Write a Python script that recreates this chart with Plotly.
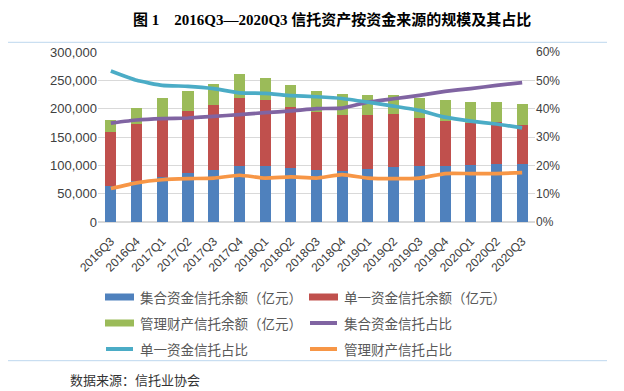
import plotly.graph_objects as go

quarters = ["2016Q3", "2016Q4", "2017Q1", "2017Q2", "2017Q3", "2017Q4", "2018Q1", "2018Q2",
            "2018Q3", "2018Q4", "2019Q1", "2019Q2", "2019Q3", "2019Q4", "2020Q1", "2020Q2", "2020Q3"]

# 余额（亿元）
jihe_amt = [62900, 72900, 80000, 85900, 91200, 98200, 98200, 94700, 92300, 90600, 94100,
            97600, 98200, 99400, 100000, 102900, 102900]
danyi_amt = [95900, 100600, 105500, 109400, 114700, 120000, 116500, 108200, 101800, 97600,
             95300, 92400, 85900, 78800, 75300, 73000, 69000]
guanli_amt = [21800, 28300, 32700, 35900, 37000, 43000, 40000, 38300, 36500, 38300, 34700,
              34100, 35300, 36500, 37000, 36400, 35700]

# 占比（%）
jihe_pct = [34.9, 36.0, 36.5, 36.7, 37.3, 37.9, 38.6, 39.2, 40.0, 40.2, 42.3, 43.5, 44.7,
            46.1, 47.1, 48.2, 49.2]
danyi_pct = [53.3, 50.0, 48.2, 47.9, 47.1, 45.6, 45.4, 44.6, 44.2, 43.6, 42.3, 40.9, 39.4,
             37.0, 35.6, 34.6, 33.2]
guanli_pct = [11.8, 13.8, 14.9, 15.3, 15.5, 16.5, 15.5, 15.9, 15.5, 16.7, 15.5, 15.3, 15.5,
              17.1, 17.1, 17.1, 17.4]

bar_names = ["集合资金信托余额（亿元）", "单一资金信托余额（亿元）", "管理财产信托余额（亿元）"]
line_names = ["集合资金信托占比", "单一资金信托占比", "管理财产信托占比"]
bar_colors = ["#4F81BD", "#C0504D", "#9BBB59"]
line_colors = ["#8064A2", "#4BACC6", "#F79646"]

# page body has an 8px default margin; figure is sized to fit the window exactly
OFF = 8
W, H = 624 - OFF, 391 - OFF
ML, MR, MT, MB = 90, 89, 44, 169
PW, PH = W - ML - MR, H - MT - MB


def px(x):  # page pixel -> paper x
    return (x - OFF - ML) / PW


def py(y):  # page pixel -> paper y
    return (H - MB - (y - OFF)) / PH


fig = go.Figure()
for name, vals, col in zip(bar_names, [jihe_amt, danyi_amt, guanli_amt], bar_colors):
    fig.add_trace(go.Bar(x=quarters, y=vals, name=name, marker=dict(color=col, line=dict(width=0)),
                         showlegend=False))
for name, vals, col in zip(line_names, [jihe_pct, danyi_pct, guanli_pct], line_colors):
    fig.add_trace(go.Scatter(x=quarters, y=vals, name=name, yaxis="y2", mode="lines",
                             line=dict(color=col, width=3.7, shape="spline", smoothing=0.4),
                             showlegend=False))

axis_font = dict(family="Liberation Sans, Arial, sans-serif", color="#404040")
fig.update_layout(
    width=W, height=H,
    margin=dict(l=ML, r=MR, t=MT, b=MB),
    paper_bgcolor="white", plot_bgcolor="white",
    barmode="stack", bargap=0.57,
    xaxis=dict(type="category", tickangle=-45, tickfont=dict(size=12, **axis_font),
               showgrid=False, ticks="", showline=False, range=[-0.5, 16.5],
               ticklabelstandoff=9),
    yaxis=dict(range=[0, 300000], dtick=50000, tickformat=",", showgrid=True,
               gridcolor="#D9D9D9", gridwidth=1, zeroline=True, zerolinecolor="#D9D9D9",
               tickfont=dict(size=13, **axis_font), ticks="", showline=False),
    yaxis2=dict(range=[0, 60], dtick=10, ticksuffix="%", overlaying="y", side="right",
                showgrid=False, zeroline=False, tickfont=dict(size=12, **axis_font),
                ticks="", showline=False),
    showlegend=False,
)

shapes = []
annotations = []
# border lines
for yy in (42.3, 360.7):
    shapes.append(dict(type="line", xref="paper", yref="paper", x0=px(6), x1=px(607),
                       y0=py(yy), y1=py(yy), line=dict(color="#BDD7EE", width=1)))

# legend (manual)
legend_items = [
    (bar_names[0], bar_colors[0], "bar", 105, 297),
    (bar_names[1], bar_colors[1], "bar", 309, 297),
    (bar_names[2], bar_colors[2], "bar", 105, 323),
    (line_names[0], line_colors[0], "line", 309, 323),
    (line_names[1], line_colors[1], "line", 105, 349),
    (line_names[2], line_colors[2], "line", 309, 349),
]
for name, col, kind, x0, yc in legend_items:
    if kind == "bar":
        shapes.append(dict(type="rect", xref="paper", yref="paper", x0=px(x0), x1=px(x0 + 29),
                           y0=py(yc + 3.5), y1=py(yc - 3.5), fillcolor=col, line=dict(width=0)))
    else:
        shapes.append(dict(type="line", xref="paper", yref="paper", x0=px(x0 + 1), x1=px(x0 + 28),
                           y0=py(yc), y1=py(yc), line=dict(color=col, width=4)))
    annotations.append(dict(text=name, xref="paper", yref="paper", x=px(x0 + 33), y=py(yc),
                            xanchor="left", yanchor="middle", showarrow=False,
                            font=dict(family="Noto Sans CJK SC", size=13.5, color="#595959")))

# title
annotations.append(dict(text="<b>图 1　2016Q3—2020Q3 信托资产按资金来源的规模及其占比</b>",
                        xref="paper", yref="paper", x=px(332), y=py(19),
                        xanchor="center", yanchor="middle", showarrow=False,
                        font=dict(family="Liberation Serif, Noto Sans CJK SC", size=15, color="#000000")))
# source
annotations.append(dict(text="数据来源：信托业协会", xref="paper", yref="paper", x=px(68), y=py(379),
                        xanchor="left", yanchor="middle", showarrow=False,
                        font=dict(family="Noto Sans CJK SC", size=13, color="#333333")))

fig.update_layout(shapes=shapes, annotations=annotations)
fig.write_html("out.html")
